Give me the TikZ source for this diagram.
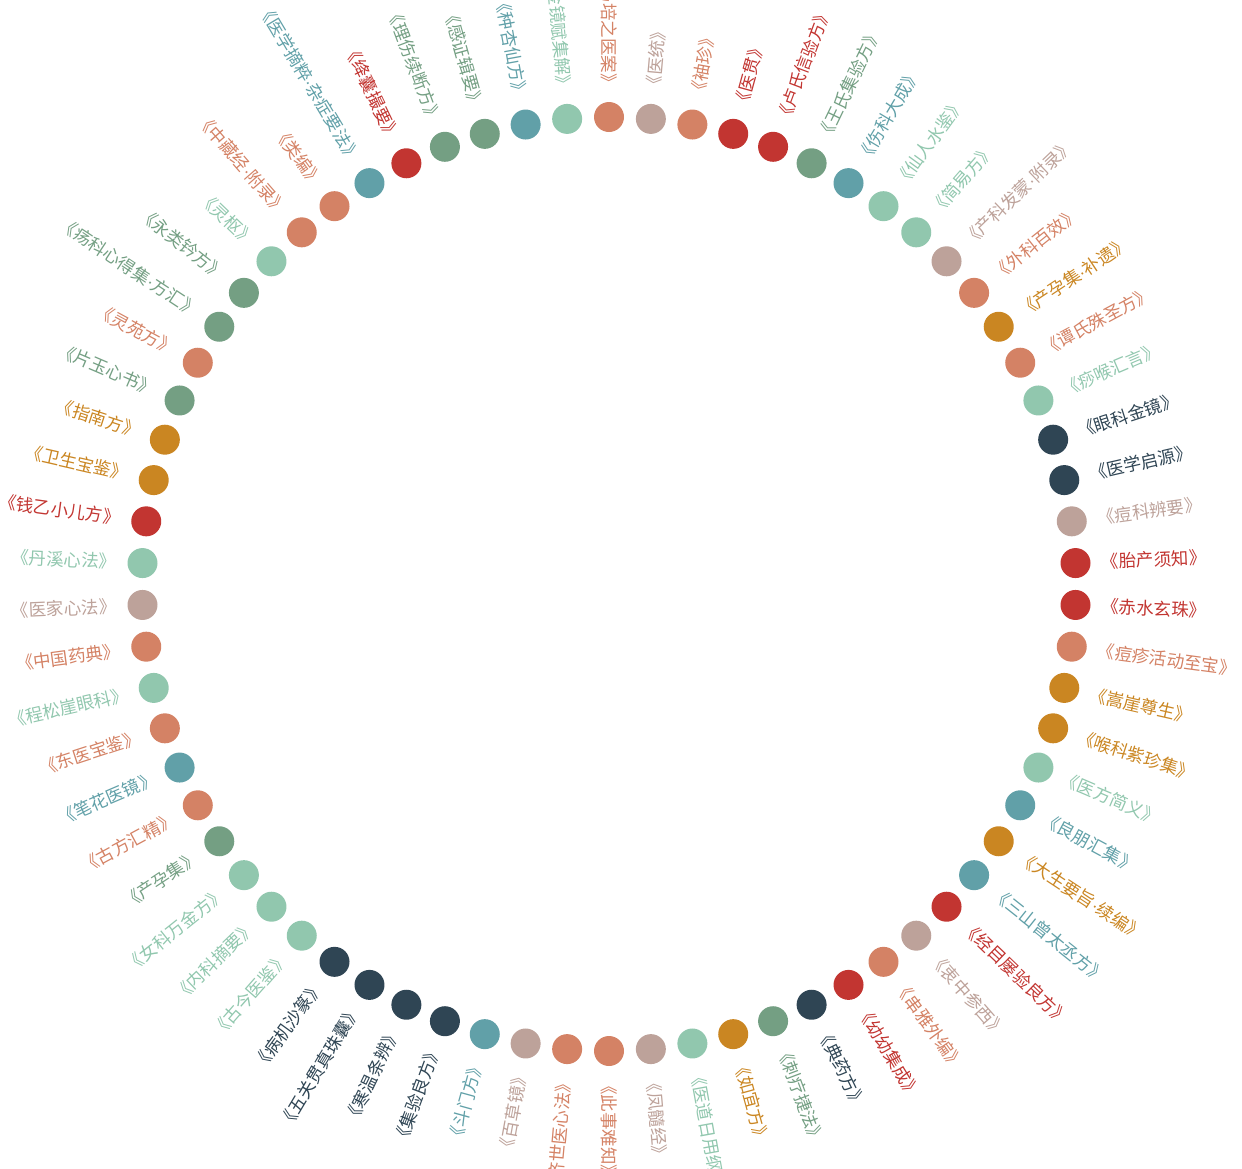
\documentclass[tikz,border=0pt]{standalone}
\usepackage{fontspec}
\setmainfont{Noto Sans CJK SC}
\newfontfamily\dotfont{Liberation Sans}
\newcommand\mdot{{\dotfont ·}}
\definecolor{eRed}{HTML}{C23531}
\definecolor{eNavy}{HTML}{2F4554}
\definecolor{eTeal}{HTML}{61A0A8}
\definecolor{eOrange}{HTML}{D48265}
\definecolor{eMint}{HTML}{91C7AE}
\definecolor{eGreen}{HTML}{749F83}
\definecolor{eGold}{HTML}{CA8622}
\definecolor{eTaupe}{HTML}{BDA29A}
\begin{document}
\begin{tikzpicture}[x=1pt,y=1pt,
    dot/.style={circle, minimum size=30pt, inner sep=0pt},
    lbl/.style={inner sep=0pt, font=\fontsize{17.5}{17.5}\selectfont}]
    \useasboundingbox (0,0) rectangle (1242,-1168);
    \coordinate (c) at (609,-584);
    \foreach \ttl/\col [count=\k from 0] in {马培之医案/eOrange, 医统/eTaupe, 袖珍/eOrange, 医贯/eRed, 卢氏信验方/eRed, 王氏集验方/eGreen, 伤科大成/eTeal, 仙人水鉴/eMint, 简易方/eMint, 产科发蒙\mdot 附录/eTaupe, 外科百效/eOrange, 产孕集\mdot 补遗/eGold, 谭氏殊圣方/eOrange, 痧喉汇言/eMint, 眼科金镜/eNavy, 医学启源/eNavy, 痘科辨要/eTaupe, 胎产须知/eRed, 赤水玄珠/eRed, 痘疹活动至宝/eOrange, 嵩崖尊生/eGold, 喉科紫珍集/eGold, 医方简义/eMint, 良朋汇集/eTeal, 大生要旨\mdot 续编/eGold, 三山曾太丞方/eTeal, 经目屡验良方/eRed, 衷中参西/eTaupe, 串雅外编/eOrange, 幼幼集成/eRed, 典药方/eNavy, 刺疗捷法/eGreen, 如宜方/eGold, 医道日用纲目/eMint, 凤髓经/eTaupe, 此事难知/eOrange, 济世医心法/eOrange, 百草镜/eTaupe, 斗门方/eTeal, 集验良方/eNavy, 寒温条辨/eNavy, 五关贯真珠囊/eNavy, 病机沙篆/eNavy, 古今医鉴/eMint, 内科摘要/eMint, 女科万金方/eMint, 产孕集/eGreen, 古方汇精/eOrange, 笔花医镜/eTeal, 东医宝鉴/eOrange, 程松崖眼科/eMint, 中国药典/eOrange, 医家心法/eTaupe, 丹溪心法/eMint, 钱乙小儿方/eRed, 卫生宝鉴/eGold, 指南方/eGold, 片玉心书/eGreen, 灵苑方/eOrange, 疡科心得集\mdot 方汇/eGreen, 永类钤方/eGreen, 灵枢/eMint, 中藏经\mdot 附录/eOrange, 类编/eOrange, 医学摘粹\mdot 杂症要法/eTeal, 绛囊撮要/eRed, 理伤续断方/eGreen, 感证辑要/eGreen, 种杏仙方/eTeal, 金镜赋集解/eMint} {
      \pgfmathsetmacro\ang{90-\k*36/7}
      \pgfmathtruncatemacro\lft{(\k==0)||(\k>35)}
      \node[dot, fill=\col] (d\k) at ([shift={(\ang:467)}]c) {};
      \ifnum\lft=1
        \node[lbl, text=\col, anchor=east, rotate=\ang+180] (t\k) at ([shift={(\ang:493)}]c) {《\ttl》};
      \else
        \node[lbl, text=\col, anchor=west, rotate=\ang] (t\k) at ([shift={(\ang:493)}]c) {《\ttl》};
      \fi
    }
\end{tikzpicture}
\end{document}
